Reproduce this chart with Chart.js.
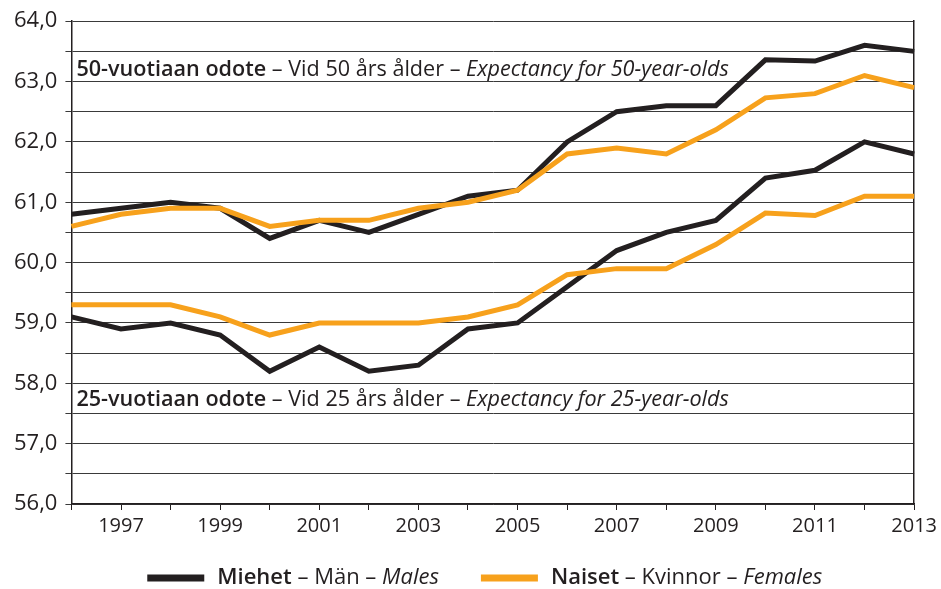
<!DOCTYPE html>
<html>
<head>
<meta charset="utf-8">
<script src="https://cdn.jsdelivr.net/npm/chart.js@4/dist/chart.umd.min.js"></script>
<style>
  html, body { margin: 0; padding: 0; background: #fff; }
  #wrap { width: 941px; height: 589px; }
</style>
</head>
<body>
<div id="wrap"><canvas id="lifeChart"></canvas></div>
<script>
const years = [1996, 1997, 1998, 1999, 2000, 2001, 2002, 2003, 2004, 2005, 2006, 2007, 2008, 2009, 2010, 2011, 2012, 2013];

// 50-year-olds
const males50   = [60.8, 60.9, 61.0, 60.9, 60.4, 60.7, 60.5, 60.8, 61.1, 61.2, 62.0, 62.5, 62.6, 62.6, 63.36, 63.34, 63.6, 63.5];
const females50 = [60.6, 60.8, 60.9, 60.9, 60.6, 60.7, 60.7, 60.9, 61.0, 61.2, 61.8, 61.9, 61.8, 62.2, 62.73, 62.8, 63.1, 62.9];
// 25-year-olds
const males25   = [59.1, 58.9, 59.0, 58.8, 58.2, 58.6, 58.2, 58.3, 58.9, 59.0, 59.6, 60.2, 60.5, 60.7, 61.4, 61.53, 62.0, 61.8];
const females25 = [59.3, 59.3, 59.3, 59.1, 58.8, 59.0, 59.0, 59.0, 59.1, 59.3, 59.8, 59.9, 59.9, 60.3, 60.82, 60.78, 61.1, 61.1];

const yMin = 56, yMax = 64;

const BLACK = "#231f20";
const ORANGE = "#f7a11c";
const FONT = "'Open Sans', sans-serif";

// text pieces: [text, style]
const note50 = [["50-vuotiaan odote", "bold"], [" \u2013 Vid 50 \u00e5rs \u00e5lder \u2013 ", "normal"], ["Expectancy for 50-year-olds", "italic"]];
const note25 = [["25-vuotiaan odote", "bold"], [" \u2013 Vid 25 \u00e5rs \u00e5lder \u2013 ", "normal"], ["Expectancy for 25-year-olds", "italic"]];
const legendItems = [
  { color: BLACK, parts: [["Miehet", "bold"], [" \u2013 M\u00e4n \u2013 ", "normal"], ["Males", "italic"]] },
  { color: ORANGE, parts: [["Naiset", "bold"], [" \u2013 Kvinnor \u2013 ", "normal"], ["Females", "italic"]] }
];

function fontFor(style, size) {
  if (style === "bold") return "600 " + size + "px " + FONT;
  if (style === "italic") return "italic 400 " + size + "px " + FONT;
  return "400 " + size + "px " + FONT;
}

function drawParts(ctx, parts, x, y, size) {
  parts.forEach(([t, s]) => {
    ctx.font = fontFor(s, size);
    ctx.fillText(t, x, y);
    x += ctx.measureText(t).width;
  });
  return x;
}

function partsWidth(ctx, parts, size) {
  let w = 0;
  parts.forEach(([t, s]) => { ctx.font = fontFor(s, size); w += ctx.measureText(t).width; });
  return w;
}

// Annotations + legend
const extras = {
  id: "extras",
  afterDatasetsDraw(chart) {
    const { ctx, chartArea, scales } = chart;
    ctx.save();
    ctx.fillStyle = BLACK;
    ctx.textBaseline = "middle";
    ctx.textAlign = "left";
    drawParts(ctx, note50, chartArea.left + 5, scales.y.getPixelForValue(63.2), 21.6);
    drawParts(ctx, note25, chartArea.left + 5, scales.y.getPixelForValue(57.72), 21.6);

    // legend
    const size = 22, lineLen = 57, gapLine = 13, gapItem = 42;
    let total = 0;
    legendItems.forEach((it, i) => {
      total += lineLen + gapLine + partsWidth(ctx, it.parts, size);
      if (i < legendItems.length - 1) total += gapItem;
    });
    let x = (chartArea.left + chartArea.right) / 2 - total / 2 - 8;
    const y = chart.height - 11;
    legendItems.forEach(it => {
      ctx.strokeStyle = it.color;
      ctx.lineWidth = 7;
      ctx.beginPath();
      ctx.moveTo(x, y);
      ctx.lineTo(x + lineLen, y);
      ctx.stroke();
      x += lineLen + gapLine;
      ctx.fillStyle = BLACK;
      x = drawParts(ctx, it.parts, x, y, size) + gapItem;
    });
    ctx.restore();
  }
};

function series(data, color) {
  return {
    data: data,
    borderColor: color,
    backgroundColor: color,
    borderWidth: 5,
    pointRadius: 0,
    tension: 0,
    fill: false,
    borderJoinStyle: "miter",
    borderCapStyle: "butt"
  };
}

const ctx = document.getElementById("lifeChart").getContext("2d");
new Chart(ctx, {
  type: "line",
  data: {
    labels: years,
    datasets: [
      series(females25, ORANGE),
      series(males25, BLACK),
      series(females50, ORANGE),
      series(males50, BLACK)
    ]
  },
  options: {
    responsive: true,
    maintainAspectRatio: false,
    animation: false,
    layout: { padding: { left: 6, right: 7, top: 7, bottom: 47 } },
    plugins: { legend: { display: false }, tooltip: { enabled: false } },
    scales: {
      x: {
        type: "category",
        offset: false,
        grid: { drawOnChartArea: false, drawTicks: true, tickLength: 6, color: BLACK },
        border: { color: BLACK, width: 1.5 },
        ticks: {
          autoSkip: false,
          maxRotation: 0,
          color: BLACK,
          font: { family: FONT, size: 20 },
          padding: 4,
          callback: function (val, i) { const yr = years[i]; return yr % 2 === 1 ? String(yr) : ""; }
        }
      },
      y: {
        min: yMin,
        max: yMax,
        grid: { color: "#3a3a3a", lineWidth: 1, tickLength: 6 },
        border: { color: BLACK, width: 1.5 },
        ticks: {
          stepSize: 0.5,
          color: BLACK,
          font: { family: FONT, size: 22 },
          padding: 8,
          callback: v => Number.isInteger(v) ? v.toFixed(1).replace(".", ",") : ""
        }
      },
      y2: {
        position: "right",
        min: yMin,
        max: yMax,
        grid: { display: false },
        border: { color: BLACK, width: 1.5 },
        ticks: { display: false }
      }
    }
  },
  plugins: [extras]
});
</script>
</body>
</html>
